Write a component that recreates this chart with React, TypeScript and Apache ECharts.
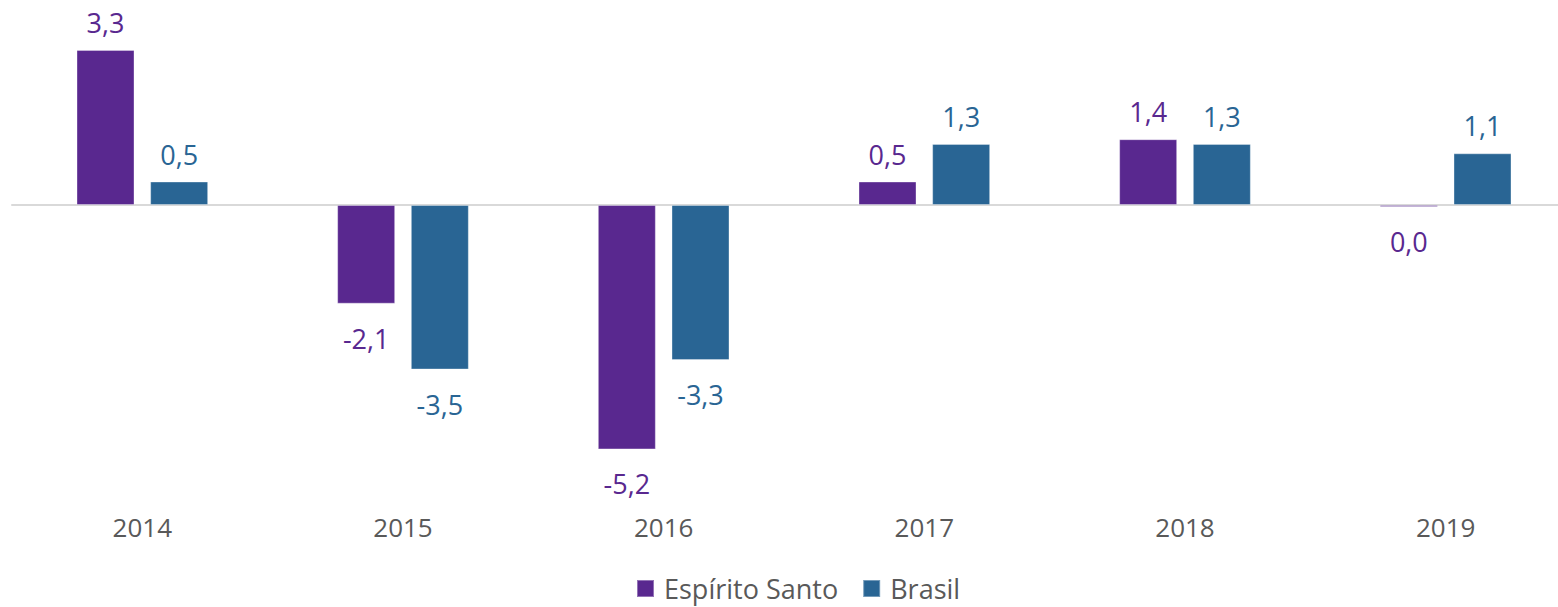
import React, { useEffect, useRef } from "react";
import * as echarts from "echarts";

const categories = ["2014", "2015", "2016", "2017", "2018", "2019"];
const espiritoSanto = [3.3, -2.1, -5.2, 0.5, 1.4, -0.04];
const brasil = [0.5, -3.5, -3.3, 1.3, 1.3, 1.1];
const seriesNames = ["Espírito Santo", "Brasil"];
const colors = ["#59288F", "#296594"];

const FONT = "'Open Sans', 'Noto Sans', sans-serif";

function fmt(v: number): string {
  let s = v.toFixed(1);
  if (s === "-0.0") s = "0.0";
  return s.replace(".", ",");
}

function buildData(values: number[], color: string) {
  return values.map((v) => ({
    value: v,
    label: {
      show: true,
      position: v < 0 ? "bottom" : "top",
      distance: v < 0 ? 21 : 14,
      color,
      fontSize: 27,
      fontFamily: FONT,
      formatter: (p: any) => fmt(p.value),
    },
  }));
}

export default function App() {
  const ref = useRef<HTMLDivElement>(null);
  useEffect(() => {
    if (!ref.current) return;
    const chart = echarts.init(ref.current, undefined, { renderer: "svg" });
    const allSeries = [espiritoSanto, brasil];
    chart.setOption({
      animation: false,
      backgroundColor: "#ffffff",
      grid: { left: 12, right: 4, top: 17, bottom: 120, containLabel: false },
      legend: {
        bottom: 0,
        left: 631,
        icon: "rect",
        itemWidth: 17,
        itemHeight: 17,
        itemGap: 24,
        textStyle: { color: "#595959", fontSize: 27, fontFamily: FONT, padding: [0, 0, 0, 5] },
        data: seriesNames,
      },
      xAxis: [
        {
          type: "category",
          data: categories,
          position: "bottom",
          axisLine: { show: false, onZero: false },
          axisTick: { show: false },
          axisLabel: { color: "#595959", fontSize: 26, fontFamily: FONT, margin: 27 },
        },
        {
          type: "category",
          data: categories,
          axisLine: { show: true, onZero: true, lineStyle: { color: "#d9d9d9", width: 2 } },
          axisTick: { show: false },
          axisLabel: { show: false },
        },
      ],
      yAxis: {
        type: "value",
        min: -6,
        max: 4,
        show: false,
        splitLine: { show: false },
      },
      series: allSeries.map((vals, i) => ({
        name: seriesNames[i],
        type: "bar",
        xAxisIndex: 0,
        barWidth: 58,
        barGap: "27%",
        itemStyle: { color: colors[i], borderColor: "rgba(255,255,255,0.35)", borderWidth: 1 },
        data: buildData(vals, colors[i]),
      })),
    });
    return () => chart.dispose();
  }, []);
  return (
    <div
      style={{
        position: "absolute",
        left: 0,
        top: 0,
        width: 1558,
        height: 607,
        overflow: "hidden",
        background: "#ffffff",
      }}
    >
      <div ref={ref} style={{ width: 1580, height: 607 }} />
    </div>
  );
}
